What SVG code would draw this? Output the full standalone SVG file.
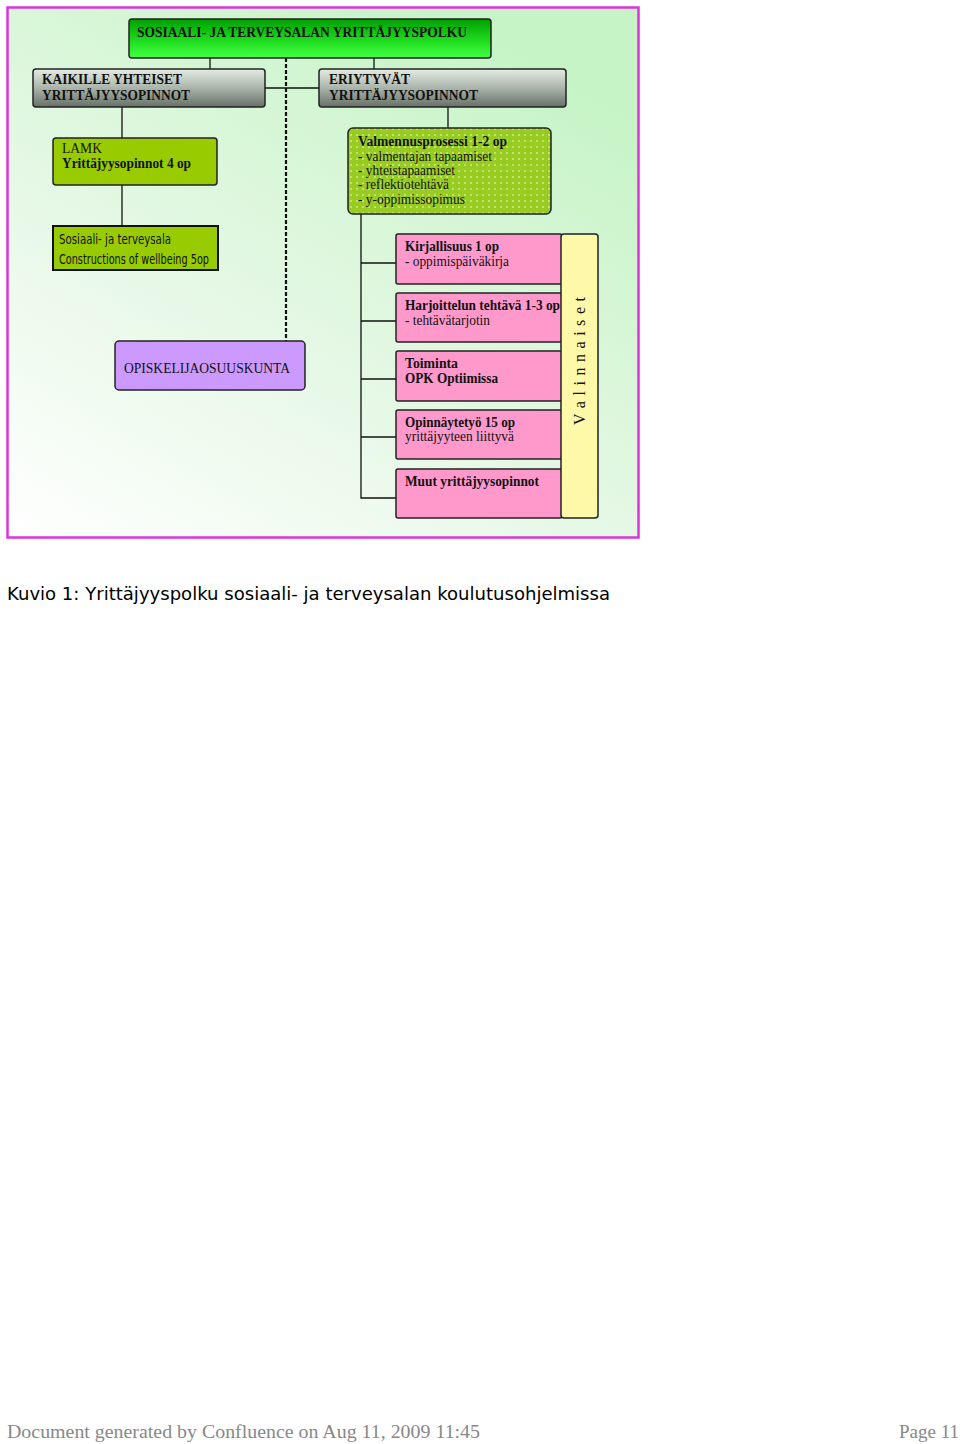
<svg xmlns="http://www.w3.org/2000/svg" width="960" height="1444" viewBox="0 0 960 1444">
<defs>
<linearGradient id="bg" x1="0" y1="1" x2="0.7" y2="0">
<stop offset="0" stop-color="#ffffff"/>
<stop offset="0.45" stop-color="#e6f8e6"/>
<stop offset="1" stop-color="#c6f4c6"/>
</linearGradient>
<linearGradient id="grn" x1="0" y1="0" x2="0" y2="1">
<stop offset="0" stop-color="#00a000"/>
<stop offset="0.6" stop-color="#22e022"/>
<stop offset="1" stop-color="#44ff44"/>
</linearGradient>
<linearGradient id="gry" x1="0" y1="0" x2="0" y2="1">
<stop offset="0" stop-color="#e4ece4"/>
<stop offset="0.5" stop-color="#aab4aa"/>
<stop offset="1" stop-color="#667066"/>
</linearGradient>
<pattern id="dots" width="6" height="6" patternUnits="userSpaceOnUse">
<rect width="6" height="6" fill="#99cc22"/>
<circle cx="3" cy="3" r="0.9" fill="#d8ee88"/>
</pattern>
<style>
.t{font-family:"Liberation Serif",serif;font-weight:bold;font-size:14px;fill:#111}
.n{font-family:"Liberation Serif",serif;font-size:14px;fill:#111}
.c{font-family:"DejaVu Sans Condensed","DejaVu Sans",sans-serif;font-size:13.5px;fill:#111}
.ln{stroke:#111;stroke-width:1.3;fill:none}
.bx{stroke:#222;stroke-width:1.5}
</style>
</defs>
<rect width="960" height="1444" fill="#ffffff"/>
<rect x="7.5" y="7.5" width="631" height="530" fill="url(#bg)" stroke="#dd33dd" stroke-width="2.5"/>

<g id="connectors">
<line class="ln" x1="210" y1="58" x2="210" y2="69"/>
<line class="ln" x1="374" y1="58" x2="374" y2="69"/>
<line class="ln" x1="265" y1="88" x2="319" y2="88"/>
<line x1="286" y1="58" x2="286" y2="341" stroke="#111" stroke-width="2.2" stroke-dasharray="4,2"/>
<line class="ln" x1="122" y1="107" x2="122" y2="138"/>
<line class="ln" x1="122" y1="185" x2="122" y2="226"/>
<line class="ln" x1="448" y1="107" x2="448" y2="128"/>
<polyline class="ln" points="361,214 361,498 396,498"/>
<line class="ln" x1="361" y1="263" x2="396" y2="263"/>
<line class="ln" x1="361" y1="321" x2="396" y2="321"/>
<line class="ln" x1="361" y1="379" x2="396" y2="379"/>
<line class="ln" x1="361" y1="437" x2="396" y2="437"/>
</g>

<g id="title">
<rect class="bx" x="129" y="19" width="362" height="39" rx="3" fill="url(#grn)"/>
<text class="t" x="137" y="37" textLength="330" lengthAdjust="spacingAndGlyphs">SOSIAALI- JA TERVEYSALAN YRITTÄJYYSPOLKU</text>
</g>

<g id="kaikille">
<rect class="bx" x="33" y="69" width="232" height="38" rx="3" fill="url(#gry)"/>
<text class="t" x="42" y="84" textLength="140" lengthAdjust="spacingAndGlyphs">KAIKILLE YHTEISET</text>
<text class="t" x="42" y="100" textLength="148" lengthAdjust="spacingAndGlyphs">YRITTÄJYYSOPINNOT</text>
</g>

<g id="eriytyvat">
<rect class="bx" x="319" y="69" width="247" height="38" rx="3" fill="url(#gry)"/>
<text class="t" x="329" y="84" textLength="81" lengthAdjust="spacingAndGlyphs">ERIYTYVÄT</text>
<text class="t" x="329" y="100" textLength="149" lengthAdjust="spacingAndGlyphs">YRITTÄJYYSOPINNOT</text>
</g>

<g id="lamk">
<rect class="bx" x="53" y="138" width="164" height="47" rx="3" fill="#99cc00"/>
<text class="n" x="62" y="153" textLength="40" lengthAdjust="spacingAndGlyphs">LAMK</text>
<text class="t" x="62" y="168" textLength="129" lengthAdjust="spacingAndGlyphs">Yrittäjyysopinnot 4 op</text>
</g>

<g id="sosiaali">
<rect x="53" y="226" width="165" height="44" fill="#99cc00" stroke="#111" stroke-width="2"/>
<text class="c" x="59" y="244" textLength="112" lengthAdjust="spacingAndGlyphs">Sosiaali- ja terveysala</text>
<text class="c" x="59" y="264" textLength="150" lengthAdjust="spacingAndGlyphs">Constructions of wellbeing 5op</text>
</g>

<g id="opiskelija">
<rect class="bx" x="115" y="341" width="190" height="49" rx="4" fill="#cc99ff"/>
<text class="n" x="124" y="373" textLength="166" lengthAdjust="spacingAndGlyphs">OPISKELIJAOSUUSKUNTA</text>
</g>

<g id="valmennus">
<rect class="bx" x="348" y="128" width="203" height="86" rx="5" fill="url(#dots)"/>
<text class="t" x="358" y="146" textLength="149" lengthAdjust="spacingAndGlyphs">Valmennusprosessi 1-2 op</text>
<text class="n" x="358" y="161" textLength="134" lengthAdjust="spacingAndGlyphs">- valmentajan tapaamiset</text>
<text class="n" x="358" y="175" textLength="97" lengthAdjust="spacingAndGlyphs">- yhteistapaamiset</text>
<text class="n" x="358" y="189" textLength="91" lengthAdjust="spacingAndGlyphs">- reflektiotehtävä</text>
<text class="n" x="358" y="204" textLength="107" lengthAdjust="spacingAndGlyphs">- y-oppimissopimus</text>
</g>

<g id="kirjallisuus">
<rect class="bx" x="396" y="234" width="166" height="50" rx="2" fill="#ff99cc"/>
<text class="t" x="405" y="251" textLength="94" lengthAdjust="spacingAndGlyphs">Kirjallisuus 1 op</text>
<text class="n" x="405" y="266" textLength="104" lengthAdjust="spacingAndGlyphs">- oppimispäiväkirja</text>
</g>

<g id="harjoittelu">
<rect class="bx" x="396" y="293" width="166" height="49" rx="2" fill="#ff99cc"/>
<text class="t" x="405" y="310" textLength="155" lengthAdjust="spacingAndGlyphs">Harjoittelun tehtävä 1-3 op</text>
<text class="n" x="405" y="325" textLength="85" lengthAdjust="spacingAndGlyphs">- tehtävätarjotin</text>
</g>

<g id="toiminta">
<rect class="bx" x="396" y="351" width="166" height="50" rx="2" fill="#ff99cc"/>
<text class="t" x="405" y="368" textLength="53" lengthAdjust="spacingAndGlyphs">Toiminta</text>
<text class="t" x="405" y="383" textLength="93" lengthAdjust="spacingAndGlyphs">OPK Optiimissa</text>
</g>

<g id="opinnaytetyo">
<rect class="bx" x="396" y="410" width="166" height="49" rx="2" fill="#ff99cc"/>
<text class="t" x="405" y="427" textLength="110" lengthAdjust="spacingAndGlyphs">Opinnäytetyö 15 op</text>
<text class="n" x="405" y="441" textLength="109" lengthAdjust="spacingAndGlyphs">yrittäjyyteen liittyvä</text>
</g>

<g id="muut">
<rect class="bx" x="396" y="469" width="166" height="49" rx="2" fill="#ff99cc"/>
<text class="t" x="405" y="486" textLength="134" lengthAdjust="spacingAndGlyphs">Muut yrittäjyysopinnot</text>
</g>

<g id="valinnaiset">
<rect class="bx" x="561" y="234" width="37" height="284" rx="3" fill="#fdf9a8"/>
<text x="0" y="0" transform="translate(585,425) rotate(-90)" style="font-family:'Liberation Serif',serif;font-size:16px;fill:#111" textLength="128" lengthAdjust="spacing">V a l i n n a i s e t</text>
</g>

<text x="7" y="600" style="font-family:'DejaVu Sans',Verdana,sans-serif;font-size:17px;fill:#000" textLength="603" lengthAdjust="spacingAndGlyphs">Kuvio 1: Yrittäjyyspolku sosiaali- ja terveysalan koulutusohjelmissa</text>
<text x="7" y="1438" style="font-family:'Liberation Serif',serif;font-size:19px;fill:#888" textLength="473" lengthAdjust="spacingAndGlyphs">Document generated by Confluence on Aug 11, 2009 11:45</text>
<text x="959" y="1438" text-anchor="end" style="font-family:'Liberation Serif',serif;font-size:19px;fill:#888">Page 11</text>
</svg>
